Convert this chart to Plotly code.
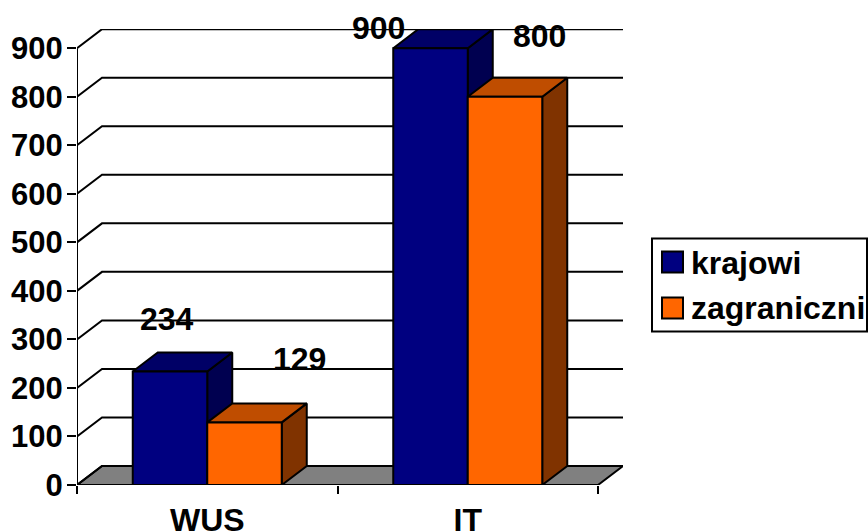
import plotly.graph_objects as go

categories = ["WUS", "IT"]
series_names = ["krajowi", "zagraniczni"]
krajowi = [234, 900]
zagraniczni = [129, 800]
y_ticks = [0, 100, 200, 300, 400, 500, 600, 700, 800, 900]
label_shift_x = [[-3, -52], [55, 34]]
label_shift_y = [[52, 20], [63, 61]]

FONT = "Liberation Sans"
FS = 32
W, H = 868, 531
L, R, T, B = 77, 623, 29.3, 485.5
cat_px = 260.5
unit_px = 437 / 900
DX = 25 / cat_px
DY = 19 / unit_px
BW = 74.5 / cat_px
colors = {
    "krajowi": ("#000080", "#000066", "#000050"),
    "zagraniczni": ("#FF6600", "#BF4D00", "#803300"),
}
centers = [i + 0.5 for i in range(len(categories))]
xmax = len(categories) + DX
ymax = (B - T) / unit_px

fig = go.Figure()


def poly(xs, ys, fill, z):
    fig.add_trace(go.Scatter(x=xs, y=ys, mode="lines", fill="toself", fillcolor=fill,
                             line=dict(color="black", width=2), hoverinfo="skip",
                             showlegend=False, cliponaxis=False, zorder=z))


n = len(categories)
# floor
poly([0, DX, n + DX, n, 0], [0, DY, DY, 0, 0], "#808080", 0)
# back wall gridlines
gx, gy = [], []
for v in y_ticks:
    gx += [0, DX, n + DX, None]
    gy += [v, v + DY, v + DY, None]
fig.add_trace(go.Scatter(x=gx, y=gy, mode="lines", line=dict(color="black", width=2),
                         hoverinfo="skip", showlegend=False, cliponaxis=False, zorder=0))
# axes lines
fig.add_trace(go.Scatter(x=[0, 0, None, 0, n], y=[y_ticks[-1], 0, None, 0, 0], mode="lines",
                         line=dict(color="black", width=2), hoverinfo="skip",
                         showlegend=False, cliponaxis=False, zorder=0))

z = 1
for s, (name, vals) in enumerate(zip(series_names, [krajowi, zagraniczni])):
    front, top, side = colors[name]
    lefts = [c - BW + s * BW for c in centers]
    for x0, v in zip(lefts, vals):
        x1 = x0 + BW
        poly([x1, x1 + DX, x1 + DX, x1, x1], [0, DY, v + DY, v, 0], side, z)
        poly([x0, x1, x1 + DX, x0 + DX, x0], [v, v, v + DY, v + DY, v], top, z)
    fig.add_trace(go.Bar(x=[l + BW / 2 for l in lefts], y=vals, width=BW, name=name,
                         marker=dict(color=front, line=dict(color="black", width=2)),
                         showlegend=False, cliponaxis=False, zorder=z + 1))
    z += 2

fig.update_layout(
    width=W, height=H, barmode="overlay", showlegend=False,
    margin=dict(l=L, r=W - R, t=T, b=H - B, pad=0, autoexpand=False),
    paper_bgcolor="white", plot_bgcolor="white",
    font=dict(family=FONT, size=FS, color="black"),
    xaxis=dict(range=[0, xmax], showgrid=False, zeroline=False, showline=False, automargin=False,
               tickmode="array", tickvals=centers, ticktext=[f"<b>{c}</b>" for c in categories],
               ticks="outside", ticklen=7, tickcolor="rgba(0,0,0,0)",
               minor=dict(tickmode="array", tickvals=list(range(n + 1)), ticks="outside",
                          ticklen=8, tickwidth=2, tickcolor="black", showgrid=False)),
    yaxis=dict(range=[0, ymax], showgrid=False, zeroline=False, showline=False, automargin=False,
               tickmode="array", tickvals=y_ticks, ticktext=[f"<b>{v}</b>" for v in y_ticks],
               tickfont=dict(family=FONT, size=31, color="black"), ticklabelstandoff=-2,
               ticks="outside", ticklen=9, tickwidth=2, tickcolor="black"),
)

# data labels
for s, vals in enumerate([krajowi, zagraniczni]):
    for i, v in enumerate(vals):
        fig.add_annotation(x=centers[i] - BW / 2 + s * BW, y=v, text=f"<b>{v}</b>", showarrow=False,
                           xshift=label_shift_x[s][i], yshift=label_shift_y[s][i],
                           font=dict(family=FONT, size=FS, color="black"))


def px(x):
    return (x - L) / (R - L)


def py(y):
    return (B - y) / (B - T)


# legend
fig.add_shape(type="rect", xref="paper", yref="paper", x0=px(652), x1=px(867), y0=py(239), y1=py(332),
              line=dict(color="black", width=2), fillcolor="white")
legend_rows = [(263, 252), (308.5, 298)]
for name, (cy, sy) in zip(series_names, legend_rows):
    fig.add_shape(type="rect", xref="paper", yref="paper", x0=px(662), x1=px(683), y0=py(sy), y1=py(sy + 21),
                  line=dict(color="black", width=2), fillcolor=colors[name][0])
    fig.add_annotation(xref="paper", yref="paper", x=px(689), y=py(cy), xanchor="left", yanchor="middle",
                       text=f"<b>{name}</b>", showarrow=False, font=dict(family=FONT, size=FS, color="black"))

fig.write_html("out.html", config=dict(displayModeBar=False),
               post_script="document.body.style.margin='0';")
